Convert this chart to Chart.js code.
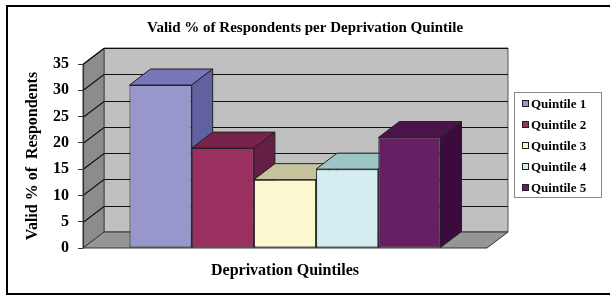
<!DOCTYPE html>
<html>
<head>
<meta charset="utf-8">
<title>Valid % of Respondents per Deprivation Quintile</title>
<script src="https://cdn.jsdelivr.net/npm/chart.js@4/dist/chart.umd.min.js"></script>
<style>
    html, body { margin:0; padding:0; background:#fff; }
    #wrap { width:610px; height:296px; position:relative; }
</style>
</head>
<body>
<div id="wrap"><canvas id="quintileChart" width="610" height="296"></canvas></div>

<script>

/* =====================================
   DATA
===================================== */

const categories = [""];

const seriesNames = [
    "Quintile 1",
    "Quintile 2",
    "Quintile 3",
    "Quintile 4",
    "Quintile 5"
];

const seriesValues = [31, 19, 13, 15, 21];

const yTicks = [0, 5, 10, 15, 20, 25, 30, 35];

/* =====================================
   LOOK
===================================== */

const FONT = "'Liberation Serif', 'Times New Roman', serif";

const frontColors = ["#9797cb", "#99305f", "#fbf7ce", "#d4edf3", "#651f62"];
const topColors   = ["#7676b8", "#78224c", "#c4c39c", "#9cc5c5", "#4b1449"];
const sideColors  = ["#6161a0", "#641f44", "#b8b68e", "#86acb0", "#3d0a3d"];

const DX = 21;     // depth offset of the 3d box
const DY = -16;

/* =====================================
   3D WALLS + BAR SIDES
===================================== */

function poly(ctx, pts, fill, stroke){

    ctx.beginPath();
    ctx.moveTo(pts[0][0], pts[0][1]);
    for(let i = 1; i < pts.length; i++) ctx.lineTo(pts[i][0], pts[i][1]);
    ctx.closePath();

    ctx.fillStyle = fill;
    ctx.fill();

    if(stroke){
        ctx.strokeStyle = stroke;
        ctx.lineWidth = 1;
        ctx.stroke();
    }

}

const wallsPlugin = {

    id: "walls",

    beforeDatasetsDraw(chart){

        const ctx = chart.ctx;
        const area = chart.chartArea;
        const y = chart.scales.y;

        const L = area.left, R = area.right;
        const T = y.getPixelForValue(yTicks[yTicks.length - 1]);
        const B = y.getPixelForValue(0);

        ctx.save();

        // back wall
        poly(ctx, [[L+DX, T+DY], [R+DX, T+DY], [R+DX, B+DY], [L+DX, B+DY]], "#c0c0c0", "#555");

        // left side wall
        poly(ctx, [[L, T], [L+DX, T+DY], [L+DX, B+DY], [L, B]], "#8c8c8c", "#444");

        // floor
        poly(ctx, [[L, B], [L+DX, B+DY], [R+DX, B+DY], [R, B]], "#969696", "#333");

        // gridlines
        ctx.strokeStyle = "#111";
        ctx.lineWidth = 1.2;

        yTicks.forEach(v => {

            if(v === 0) return;

            const py = Math.round(y.getPixelForValue(v)) + 0.5;

            ctx.beginPath();
            ctx.moveTo(L, py);
            ctx.lineTo(L+DX, py+DY);
            ctx.lineTo(R+DX, py+DY);
            ctx.stroke();

        });

        // front axis edge
        ctx.strokeStyle = "#333";
        ctx.beginPath();
        ctx.moveTo(L + 0.5, T);
        ctx.lineTo(L + 0.5, B);
        ctx.stroke();

        // bar tops and right faces, left to right so the later ones cover
        chart.data.datasets.forEach((ds, i) => {

            const bar = chart.getDatasetMeta(i).data[0];
            if(!bar) return;

            const x0 = bar.x - bar.width / 2;
            const x1 = bar.x + bar.width / 2;
            const top = bar.y;
            const base = bar.base;

            poly(ctx, [[x0, top], [x0+DX, top+DY], [x1+DX, top+DY], [x1, top]], topColors[i], "#222");
            poly(ctx, [[x1, top], [x1+DX, top+DY], [x1+DX, base+DY], [x1, base]], sideColors[i], "#222");

        });

        ctx.restore();

    }

};

/* =====================================
   LEGEND BOX + FRAME
===================================== */

const boxPlugin = {

    id: "box",

    afterDraw(chart){

        const ctx = chart.ctx;

        ctx.save();

        // outer frame (right side is cut off)
        ctx.strokeStyle = "#000";
        ctx.lineWidth = 2;
        ctx.beginPath();
        ctx.moveTo(610, 6);
        ctx.lineTo(7, 6);
        ctx.lineTo(7, 294);
        ctx.lineTo(610, 294);
        ctx.stroke();

        // legend
        ctx.lineWidth = 1;
        ctx.strokeStyle = "#888";
        ctx.strokeRect(514.5, 92.5, 87, 105);

        ctx.font = "bold 13px " + FONT;
        ctx.textBaseline = "middle";
        ctx.textAlign = "left";

        chart.data.datasets.forEach((ds, k) => {

            const cy = 104 + k * 21;

            ctx.fillStyle = ds.backgroundColor;
            ctx.fillRect(522, cy - 4, 7, 7);
            ctx.strokeStyle = "#222";
            ctx.strokeRect(522.5, cy - 3.5, 6, 6);

            ctx.fillStyle = "#000";
            ctx.fillText(ds.label, 531, cy + 1);

        });

        ctx.restore();

    }

};

/* =====================================
   CHART
===================================== */

function initializeQuintileChart(){

    const ctx = document.getElementById("quintileChart");

    const datasets = seriesNames.map((name, i) => ({

        label: name,
        data: [seriesValues[i]],
        backgroundColor: frontColors[i],
        borderColor: "#222",
        borderWidth: 1,
        borderSkipped: false,
        clip: false

    }));

    new Chart(ctx, {

        type: "bar",

        data: {
            labels: categories,
            datasets: datasets
        },

        options: {

            responsive: false,
            animation: false,
            events: [],

            layout: {
                padding: 0
            },

            plugins: {

                legend: { display: false },
                tooltip: { enabled: false },

                title: {
                    display: true,
                    text: "Valid % of Respondents per Deprivation Quintile",
                    color: "#000",
                    font: { family: FONT, size: 15, weight: "bold", lineHeight: 1.2 },
                    padding: { top: 19, bottom: 27 }
                }

            },

            datasets: {
                bar: {
                    categoryPercentage: 0.77,
                    barPercentage: 1.0
                }
            },

            scales: {

                x: {
                    grid: { display: false },
                    border: { display: false },
                    ticks: { display: false },
                    title: {
                        display: true,
                        text: "Deprivation Quintiles",
                        color: "#000",
                        font: { family: FONT, size: 16, weight: "bold", lineHeight: 1.2 },
                        padding: { top: 0, bottom: 16 }
                    },
                    afterFit(scale){ scale.height = 48; }
                },

                y: {
                    min: 0,
                    max: 35,
                    afterBuildTicks(scale){
                        scale.ticks = yTicks.map(v => ({ value: v }));
                    },
                    grid: {
                        display: true,
                        drawOnChartArea: false,
                        drawTicks: true,
                        tickLength: 5,
                        color: "#333"
                    },
                    border: { display: false },
                    ticks: {
                        color: "#000",
                        padding: 9,
                        font: { family: FONT, size: 16, weight: "bold" }
                    },
                    title: {
                        display: true,
                        text: "Valid % of  Respondents",
                        color: "#000",
                        font: { family: FONT, size: 16, weight: "bold", lineHeight: 1.2 },
                        padding: { top: 23, bottom: 0 }
                    },
                    afterFit(scale){ scale.width = 83; }
                },

                // empty strip on the right that holds the legend box
                legendSpace: {
                    type: "linear",
                    position: "right",
                    display: true,
                    grid: { display: false },
                    border: { display: false },
                    ticks: { display: false },
                    afterFit(scale){ scale.width = 123; }
                }

            }

        },

        plugins: [wallsPlugin, boxPlugin]

    });

}

document.addEventListener("DOMContentLoaded", () => {

    initializeQuintileChart();

});

</script>
</body>
</html>
